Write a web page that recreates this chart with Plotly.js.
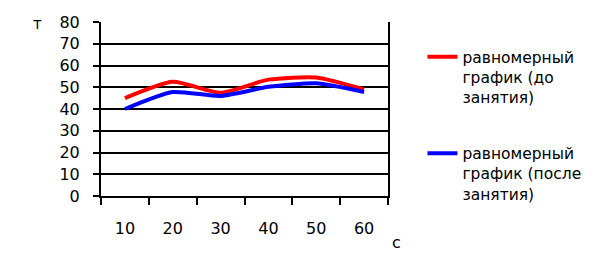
<!DOCTYPE html>
<html><head><meta charset="utf-8">
<script src="https://cdn.plot.ly/plotly-3.0.1.min.js"></script>
<style>body{margin:0;background:#fff}#c{width:614px;height:269px}</style>
</head><body><div id="c"></div>
<script>
const categories = ["10","20","30","40","50","60"];
const before = [45, 52.5, 47.5, 53.5, 54.5, 49];
const after = [40, 47.8, 46, 50.2, 51.8, 47.8];
const seriesNames = ["равномерный<br>график (до<br>занятия)", "равномерный<br>график (после<br>занятия)"];
const yTicks = [0,10,20,30,40,50,60,70,80];

const font = {family: "DejaVu Sans", size: 16, color: "#000"};
const traces = [
  {x: categories, y: before, type: "scatter", mode: "lines", name: seriesNames[0], legendgroup: "a",
   line: {color: "#ff0000", width: 4, shape: "spline", smoothing: 0.6}},
  {x: categories, y: after, type: "scatter", mode: "lines", name: seriesNames[1], legendgroup: "b",
   line: {color: "#0000ff", width: 4, shape: "spline", smoothing: 0.6}}
];
const layout = {
  width: 614, height: 269,
  margin: {l: 101, r: 226, t: 22, b: 73},
  paper_bgcolor: "#fff", plot_bgcolor: "#fff",
  font: font,
  showlegend: true,
  legend: {x: 1.12, y: 0.895, xanchor: "left", yanchor: "top", valign: "top", maxheight: 1,
    font: {family: "DejaVu Sans", size: 15.5, color: "#000"}, tracegroupgap: 33,
    bgcolor: "rgba(0,0,0,0)"},
  xaxis: {type: "category", range: [-0.5, 5.5], tickson: "boundaries", ticks: "outside", ticklen: 7, tickcolor: "#000", tickwidth: 2,
    showline: true, linecolor: "#000", linewidth: 2, showgrid: false, zeroline: false,
    ticklabelstandoff: 17, tickfont: font, fixedrange: true},
  yaxis: {range: [0, 80], tickvals: yTicks, ticks: "outside", ticklen: 6, tickcolor: "#000", tickwidth: 2,
    showline: true, mirror: true, linecolor: "#000", linewidth: 2, showgrid: true, gridcolor: "#000", gridwidth: 2,
    zeroline: false, tickfont: font, ticklabelstandoff: 10},
  annotations: [
    {text: "т", xref: "paper", yref: "paper", x: -0.22, y: 0.99, xanchor: "center", yanchor: "middle", showarrow: false, font: {family: "DejaVu Sans", size: 15, color: "#000"}},
    {text: "с", xref: "paper", yref: "paper", x: 1.03, y: -0.27, xanchor: "center", yanchor: "middle", showarrow: false, font: {family: "DejaVu Sans", size: 16, color: "#000"}}
  ]
};
Plotly.newPlot("c", traces, layout, {staticPlot: true});
</script></body></html>
